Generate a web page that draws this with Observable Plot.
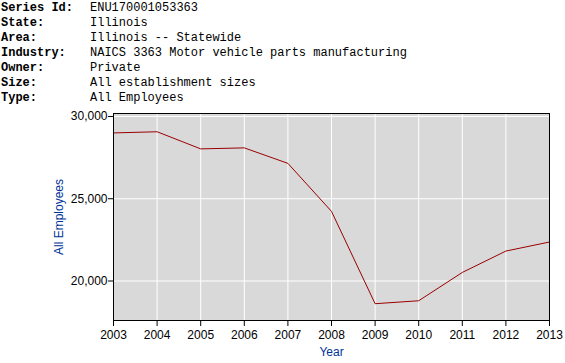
<!DOCTYPE html>
<html>
<head>
<meta charset="utf-8">
<script src="https://cdn.jsdelivr.net/npm/d3@7"></script>
<script src="https://cdn.jsdelivr.net/npm/@observablehq/plot@0.6"></script>
<style>
  html, body { margin: 0; padding: 0; background: #fff; }
  #header { height: 105px; box-sizing: border-box; padding: 1px 0 0 1px;
    font-family: "Liberation Mono", "Courier New", monospace; font-size: 12px; line-height: 15px; color: #000; }
  #header .row { white-space: pre; }
  #header .lab { display: inline-block; width: 89px; font-weight: bold; }
  #chart svg { display: block; }
</style>
</head>
<body>
<div id="header"></div>
<div id="chart"></div>
<script>
const headerLabels = ["Series Id:", "State:", "Area:", "Industry:", "Owner:", "Size:", "Type:"];
const headerValues = ["ENU170001053363", "Illinois", "Illinois -- Statewide",
  "NAICS 3363 Motor vehicle parts manufacturing", "Private", "All establishment sizes", "All Employees"];

const years = [2003, 2004, 2005, 2006, 2007, 2008, 2009, 2010, 2011, 2012, 2013];
const employees = [29000, 29070, 28030, 28090, 27150, 24230, 18620, 18800, 20520, 21820, 22370];
const yTicks = [20000, 25000, 30000];
const yLabel = "All Employees";
const xLabel = "Year";

const header = document.getElementById("header");
headerLabels.forEach((l, i) => {
  const row = document.createElement("div");
  row.className = "row";
  const a = document.createElement("span");
  a.className = "lab";
  a.textContent = l;
  const b = document.createElement("span");
  b.textContent = headerValues[i];
  row.append(a, b);
  header.append(row);
});

const data = years.map((y, i) => ({year: y, value: employees[i]}));
const blue = "#003399";

const chart = Plot.plot({
  width: 565,
  height: 258,
  marginTop: 8,
  marginBottom: 43,
  marginLeft: 113,
  marginRight: 16,
  style: {fontFamily: "'Liberation Sans', Arial, sans-serif", fontSize: "12px", color: "#000", background: "#fff"},
  x: {domain: [2003, 2013]},
  y: {domain: [17600, 30180]},
  marks: [
    Plot.frame({fill: "#d9d9d9", stroke: null}),
    Plot.gridX(years, {stroke: "#fff", strokeOpacity: 1, strokeWidth: 1}),
    Plot.gridY(yTicks, {stroke: "#fff", strokeOpacity: 1, strokeWidth: 1}),
    Plot.line(data, {x: "year", y: "value", stroke: "#990000", strokeWidth: 1}),
    Plot.frame({stroke: "#000", strokeWidth: 1}),
    Plot.axisX(years, {tickFormat: d => String(d), tickSize: 6, tickPadding: 4, label: null, fontSize: 12}),
    Plot.axisY(yTicks, {tickFormat: d3.format(","), tickSize: 5, tickPadding: 1, label: null, fontSize: 12}),
    Plot.text([yLabel], {frameAnchor: "left", textAnchor: "middle", lineAnchor: "middle", dx: -54, rotate: -90, fill: blue, fontSize: 12}),
    Plot.text([xLabel], {frameAnchor: "bottom", textAnchor: "middle", lineAnchor: "middle", dy: 32, fill: blue, fontSize: 12})
  ]
});
document.getElementById("chart").append(chart);
</script>
</body>
</html>
